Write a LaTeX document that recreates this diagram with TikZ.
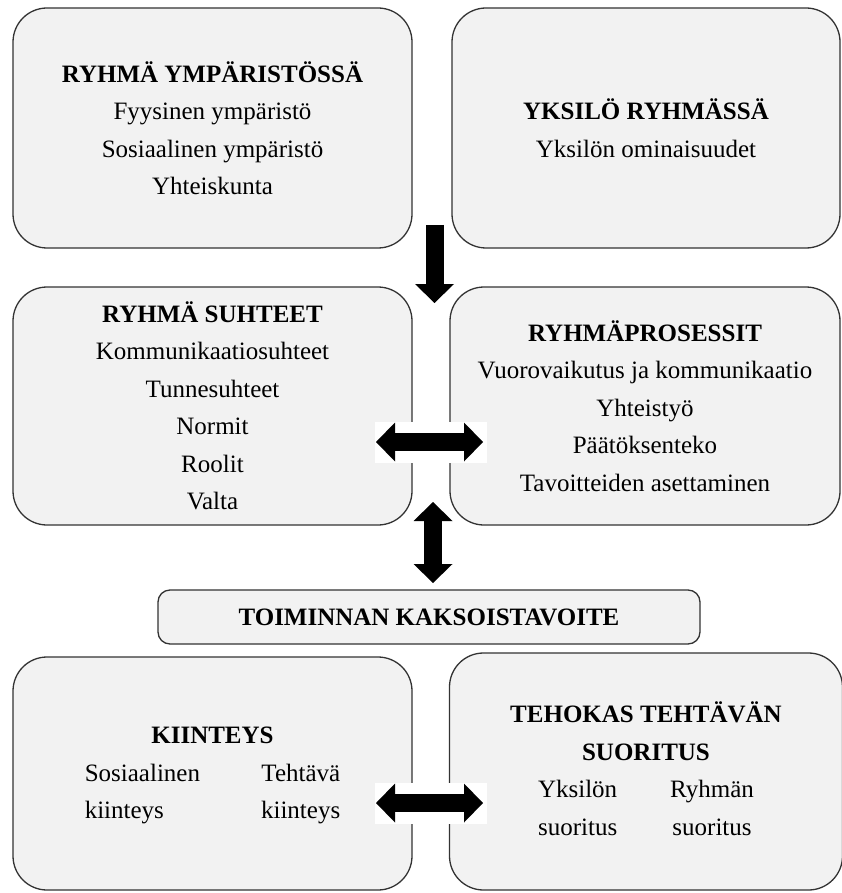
\documentclass[tikz,border=0pt]{standalone}
\usepackage{fontspec}
\setmainfont{Liberation Serif}
\usetikzlibrary{arrows.meta}
\definecolor{boxgray}{RGB}{242,242,242}

\begin{document}
\begin{tikzpicture}[x=1pt, y=-1pt, font=\fontsize{25}{37.5}\selectfont,
                    box/.style={draw=black!80, line width=1.3pt, fill=boxgray, rounded corners=34pt, inner sep=0pt, align=center},
                    fathead/.tip={Triangle[length=19pt, width=39pt, line width=0pt]},
                    fatarrow/.style={line width=18pt, -fathead},
                    fatboth/.style={line width=18pt, fathead-fathead}]
                    \useasboundingbox (0,0) rectangle (841,893);
                    \node [box, minimum width=399pt, minimum height=240pt] (ymparisto) at (212.5,128)
                        {\textbf{RYHMÄ YMPÄRISTÖSSÄ}\\Fyysinen ympäristö\\Sosiaalinen ympäristö\\Yhteiskunta};
                    \node [box, minimum width=388pt, minimum height=240pt] (yksilo) at (646,128)
                        {\textbf{YKSILÖ RYHMÄSSÄ}\\Yksilön ominaisuudet};
                    \node [box, minimum width=399pt, minimum height=238pt] (suhteet) at (212.5,406)
                        {\textbf{RYHMÄ SUHTEET}\\Kommunikaatiosuhteet\\Tunnesuhteet\\Normit\\Roolit\\Valta};
                    \node [box, minimum width=390pt, minimum height=238pt] (prosessit) at (645,406)
                        {\textbf{RYHMÄPROSESSIT}\\Vuorovaikutus ja kommunikaatio\\Yhteistyö\\Päätöksenteko\\Tavoitteiden asettaminen};
                    \node [box, rounded corners=12pt, minimum width=542pt, minimum height=54pt] (tavoite) at (429,617)
                        {\textbf{TOIMINNAN KAKSOISTAVOITE}};
                    \node [box, minimum width=399pt, minimum height=233pt] (kiinteys) at (212.5,773.5)
                        {\begin{tabular}{@{}l@{\hspace{61pt}}r@{}}
                            \multicolumn{2}{c}{\textbf{KIINTEYS}}\\
                            Sosiaalinen & Tehtävä\\
                            kiinteys & kiinteys
                        \end{tabular}};
                    \node [box, minimum width=393pt, minimum height=237pt] (suoritus) at (646,771.5)
                        {\begin{tabular}{@{}c@{\hspace{53pt}}c@{}}
                            \multicolumn{2}{c}{\makebox[0pt]{\textbf{TEHOKAS TEHTÄVÄN}}}\\
                            \multicolumn{2}{c}{\textbf{SUORITUS}}\\
                            Yksilön & Ryhmän\\
                            suoritus & suoritus
                        \end{tabular}};
                    \coordinate (alas1) at (434.5,225);
                    \coordinate (alas2) at (434.5,303);
                    \coordinate (vasen1) at (376,442);
                    \coordinate (oikea1) at (483,442);
                    \coordinate (ylos) at (433,502);
                    \coordinate (alas) at (433,583);
                    \coordinate (vasen2) at (376,803);
                    \coordinate (oikea2) at (483,803);
                    \fill [white] (375,422) rectangle (487,463);
                    \fill [white] (375,783) rectangle (487,824);
                    \draw [fatarrow] (alas1) -- (alas2);
                    \draw [fatboth] (vasen1) -- (oikea1);
                    \draw [fatboth, fathead-fathead] (ylos) -- (alas);
                    \draw [fatboth] (vasen2) -- (oikea2);
                \end{tikzpicture}
\end{document}
